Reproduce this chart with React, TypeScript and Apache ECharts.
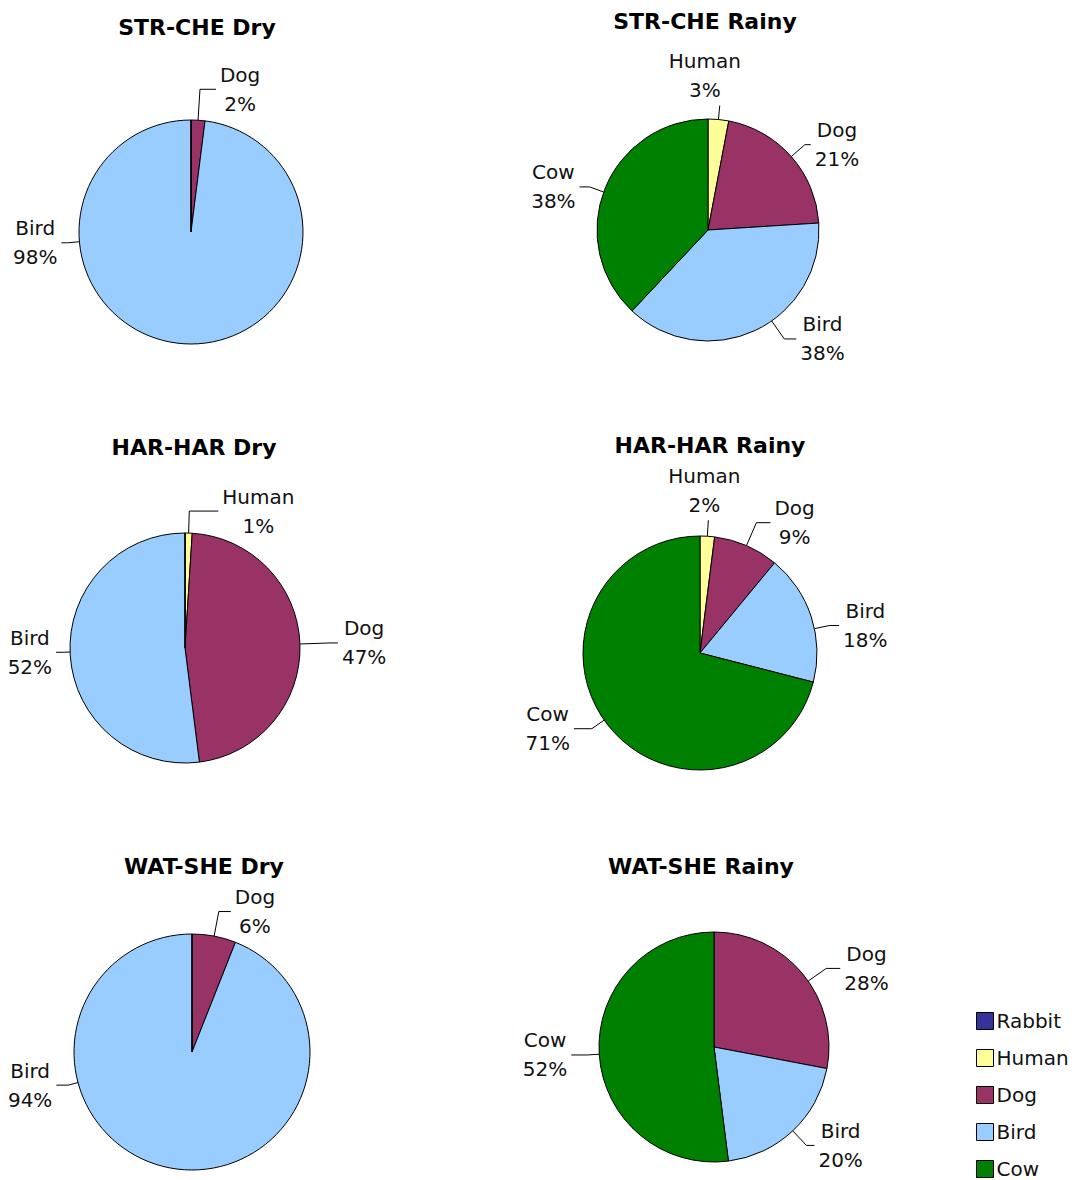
import React, { useEffect, useRef } from "react";
import * as echarts from "echarts";

const categories = ["Rabbit", "Human", "Dog", "Bird", "Cow"];
const colors = ["#333399", "#FFFF99", "#993366", "#99CCFF", "#008000"];

const titles = [
  "STR-CHE Dry",
  "STR-CHE Rainy",
  "HAR-HAR Dry",
  "HAR-HAR Rainy",
  "WAT-SHE Dry",
  "WAT-SHE Rainy",
];

const strCheDry = [0, 0, 2, 98, 0];
const strCheRainy = [0, 3, 21, 38, 38];
const harHarDry = [0, 1, 47, 52, 0];
const harHarRainy = [0, 2, 9, 18, 71];
const watSheDry = [0, 0, 6, 94, 0];
const watSheRainy = [0, 0, 28, 20, 52];

const pieValues = [strCheDry, strCheRainy, harHarDry, harHarRainy, watSheDry, watSheRainy];

// layout: [centerX, centerY, radius, titleX, titleTop]
const layouts = [
  [191, 232, 112, 192, 11],
  [708, 230, 111, 700, 5],
  [185, 648, 115, 189, 431],
  [700, 653, 117, 705, 429],
  [192, 1052, 118, 199, 850],
  [714, 1047, 115, 696, 850],
];

// label placement per pie: category -> [edgeAngleDeg (clockwise from top), leaderLen, side, horizLen, dx]
const labelSpecs: Record<string, [number, number, string, number, number?]>[] = [
  { Dog: [3.6, 31, "r", 16], Bird: [265, 12, "l", 6] },
  { Human: [5.4, 14, "t", 0, -15], Dog: [48.6, 18, "r", 6], Bird: [145, 22, "r", 12], Cow: [290, 15, "l", 10] },
  { Human: [1.8, 22, "r", 29], Dog: [88, 30, "r", 8], Bird: [268, 8, "l", 6] },
  { Human: [3.6, 16, "t", 0, -4], Dog: [23.4, 25, "r", 14], Bird: [78, 15, "r", 10], Cow: [235, 15, "l", 18] },
  { Dog: [10.8, 25, "r", 12], Bird: [255, 10, "l", 12] },
  { Dog: [55, 22, "r", 14], Bird: [136.8, 20, "r", 8], Cow: [266.4, 12, "l", 16] },
];

const FONT = "DejaVu Sans";

export default function App() {
  const ref = useRef<HTMLDivElement>(null);
  useEffect(() => {
    document.body.style.margin = "0";
    const chart = echarts.init(ref.current!, null, { renderer: "svg" });
    const series = pieValues.map((vals, i) => {
      const [cx, cy, r] = layouts[i];
      const specs = labelSpecs[i];
      return {
        type: "pie",
        center: [cx, cy],
        radius: r,
        startAngle: 90,
        clockwise: true,
        minShowLabelAngle: 1,
        avoidLabelOverlap: false,
        itemStyle: { borderColor: "#000", borderWidth: 1 },
        label: {
          show: true,
          position: "outside",
          formatter: (p: any) => `${p.name}\n${Math.round(p.percent)}%`,
          fontFamily: FONT,
          fontSize: 20,
          lineHeight: 29,
          align: "center",
          color: "#111",
        },
        labelLine: {
          show: true,
          length: 18,
          length2: 8,
          lineStyle: { color: "#000", width: 1 },
        },
        labelLayout: (p: any) => {
          const name = categories[p.dataIndex];
          const s = specs[name];
          if (!s) return {};
          const [a, l, side, h, dx] = s;
          const rad = (a * Math.PI) / 180;
          const sx = Math.sin(rad);
          const sy = -Math.cos(rad);
          const ex = cx + r * sx;
          const ey = cy + r * sy;
          const mx = cx + (r + l) * sx;
          const my = cy + (r + l) * sy;
          const w = p.labelRect.width;
          const hgt = p.labelRect.height;
          if (side === "t") {
            return {
              x: mx + (dx || 0),
              y: my - hgt / 2 - 1,
              align: "center",
              verticalAlign: "middle",
              labelLinePoints: [
                [ex, ey],
                [mx, my],
                [mx, my],
              ],
            };
          }
          const dir = side === "r" ? 1 : -1;
          const hx = mx + dir * h;
          return {
            x: hx + dir * (4 + w / 2),
            y: my,
            align: "center",
            verticalAlign: "middle",
            labelLinePoints: [
              [ex, ey],
              [mx, my],
              [hx, my],
            ],
          };
        },
        emphasis: { disabled: true },
        data: categories.map((c, k) => ({
          name: c,
          value: vals[k],
          itemStyle: { color: colors[k] },
        })),
      };
    });
    const option: any = {
      animation: false,
      backgroundColor: "#fff",
      title: titles.map((t, i) => ({
        text: t,
        left: layouts[i][3],
        top: layouts[i][4],
        textAlign: "center",
        textStyle: { fontFamily: FONT, fontSize: 22, fontWeight: "bold", color: "#000" },
      })),
      legend: {
        orient: "vertical",
        left: 976,
        top: 1011,
        width: 104,
        height: 220,
        padding: 0,
        itemWidth: 17,
        itemHeight: 17,
        itemGap: 17,
        icon: "rect",
        data: categories,
        selectedMode: false,
        itemStyle: { borderColor: "#000", borderWidth: 1 },
        textStyle: { fontFamily: FONT, fontSize: 20, color: "#111", padding: [0, 0, 0, -2] },
      },
      series,
    };
    chart.setOption(option);
    return () => chart.dispose();
  }, []);
  return <div ref={ref} style={{ width: 1080, height: 1180 }} />;
}
